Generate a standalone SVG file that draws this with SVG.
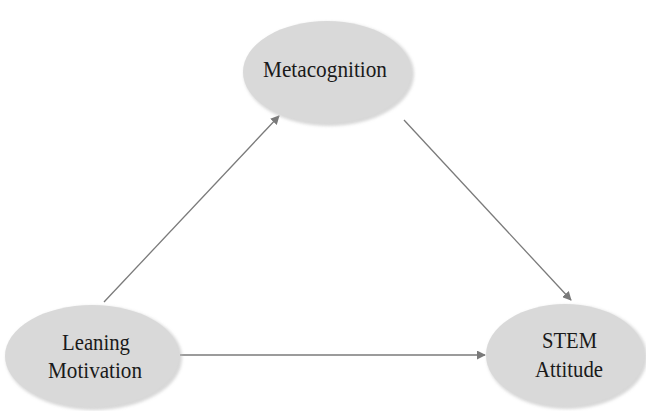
<svg xmlns="http://www.w3.org/2000/svg" width="646" height="411" viewBox="0 0 646 411">
<defs>
<style>
.node{fill:#d9d9d9;}
.shadow{fill:#bdbdbd;opacity:0.6;}
.lbl{font-family:"Liberation Serif","Times New Roman",serif;font-size:23px;fill:#1a1a1a;text-anchor:middle;}
.edge{stroke:#7a7a7a;stroke-width:1.3;fill:none;marker-end:url(#ah);}
</style>
<marker id="ah" viewBox="0 0 10 10" refX="9" refY="5" markerWidth="9" markerHeight="9" markerUnits="userSpaceOnUse" orient="auto">
<path d="M0,0 L10,5 L0,10 Z" fill="#7a7a7a"/>
</marker>
<filter id="blur" x="-10%" y="-10%" width="120%" height="120%"><feGaussianBlur stdDeviation="1.5"/></filter>
</defs>
<rect width="646" height="411" fill="#ffffff"/>
<g id="connectors">
<line class="edge" x1="104" y1="302" x2="279" y2="116"/>
<line class="edge" x1="404" y1="120" x2="571" y2="300"/>
<line class="edge" x1="180" y1="355" x2="485" y2="355"/>
</g>
<g id="metacognition">
<ellipse class="shadow" cx="329" cy="74" rx="85" ry="52" filter="url(#blur)"/>
<ellipse class="node" cx="327" cy="72" rx="84" ry="51"/>
<text class="lbl" x="325" y="77" textLength="124" lengthAdjust="spacingAndGlyphs">Metacognition</text>
</g>
<g id="leaning-motivation">
<ellipse class="shadow" cx="94" cy="358" rx="88" ry="52" filter="url(#blur)"/>
<ellipse class="node" cx="92" cy="356" rx="87" ry="51"/>
<text class="lbl" x="96" y="350" textLength="68" lengthAdjust="spacingAndGlyphs">Leaning</text>
<text class="lbl" x="95" y="378" textLength="94" lengthAdjust="spacingAndGlyphs">Motivation</text>
</g>
<g id="stem-attitude">
<ellipse class="shadow" cx="567" cy="357" rx="80" ry="52" filter="url(#blur)"/>
<ellipse class="node" cx="565" cy="355" rx="79" ry="51"/>
<text class="lbl" x="569.5" y="348" textLength="55" lengthAdjust="spacingAndGlyphs">STEM</text>
<text class="lbl" x="569" y="377" textLength="68" lengthAdjust="spacingAndGlyphs">Attitude</text>
</g>
</svg>
